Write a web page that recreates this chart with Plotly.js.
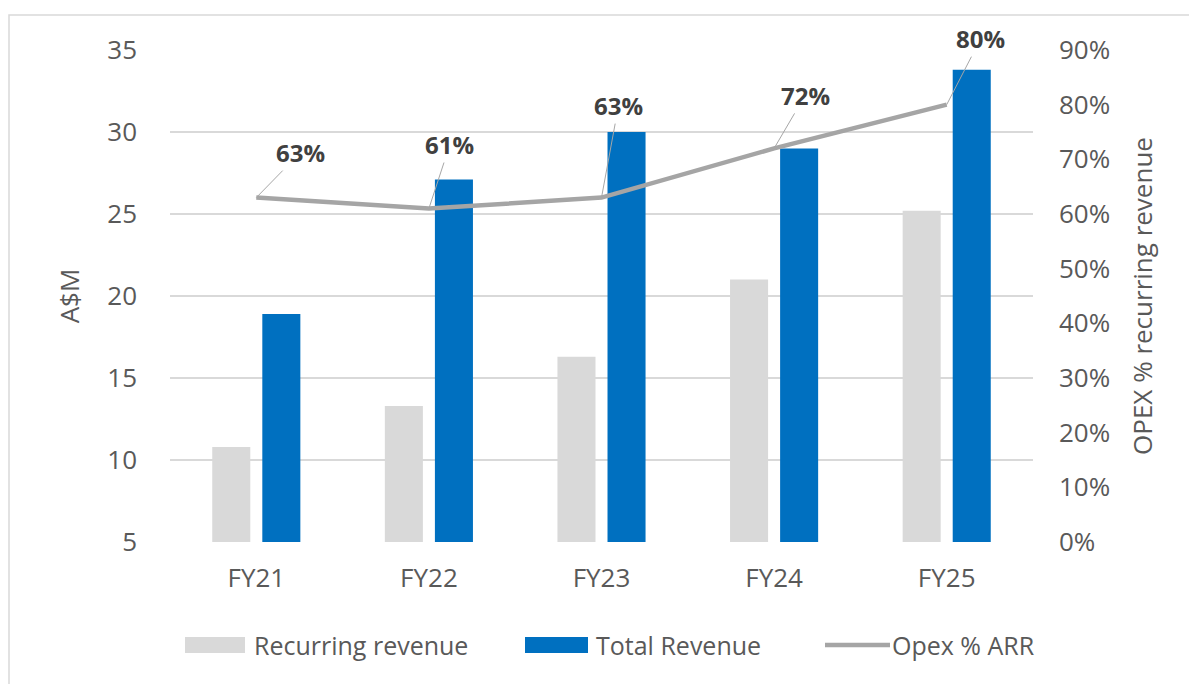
<!DOCTYPE html>
<html>
<head>
<meta charset="utf-8">
<script src="https://cdn.plot.ly/plotly-3.0.1.min.js"></script>
<style>html,body{margin:0;padding:0;background:#fff;}#chart{width:1189px;height:684px;}</style>
</head>
<body>
<div id="chart"></div>
<script>
const categories = ["FY21", "FY22", "FY23", "FY24", "FY25"];
const recurringRevenue = [10.8, 13.3, 16.3, 21.0, 25.2];
const totalRevenue = [18.9, 27.1, 30.0, 29.0, 33.8];
const opexPctArr = [0.63, 0.61, 0.63, 0.72, 0.80];
const labelOffsets = [[44, -45], [21, -64], [17, -92], [31, -53], [34, -66]];
const seriesNames = ["Recurring revenue", "Total Revenue", "Opex % ARR"];

const FONT = "Open Sans, Noto Sans, sans-serif";
const TICKC = "#595959";
const W = 1189, H = 684;
const M = {l: 170, r: 156, t: 50, b: 142};
const PW = W - M.l - M.r, PH = H - M.t - M.b;
const px = v => (v - M.l) / PW, py = v => (H - M.b - v) / PH;

const traces = [
  {type: "bar", name: seriesNames[0], x: categories, y: recurringRevenue,
   marker: {color: "#d9d9d9"}, yaxis: "y", hoverinfo: "y"},
  {type: "bar", name: seriesNames[1], x: categories, y: totalRevenue,
   marker: {color: "#0070c0"}, yaxis: "y", hoverinfo: "y"},
  {type: "scatter", mode: "lines", name: seriesNames[2], x: categories, y: opexPctArr,
   line: {color: "#a5a5a5", width: 4.5}, yaxis: "y2", hoverinfo: "y"}
];

const annotations = categories.map((c, i) => ({
  x: c, y: opexPctArr[i], xref: "x", yref: "y2",
  text: Math.round(opexPctArr[i] * 100) + "%",
  showarrow: true, arrowhead: 0, arrowwidth: 1, arrowcolor: "#a6a6a6",
  ax: labelOffsets[i][0], ay: labelOffsets[i][1], standoff: 0,
  font: {family: FONT, size: 24, color: "#404040", weight: "bold"}
}));

// custom legend
const legendItems = [
  {x0: 185, x1: 245, text: seriesNames[0], tx: 252, kind: "bar", color: "#d9d9d9"},
  {x0: 525, x1: 588, text: seriesNames[1], tx: 594, kind: "bar", color: "#0070c0"},
  {x0: 825, x1: 890, text: seriesNames[2], tx: 890, kind: "line", color: "#a5a5a5"}
];
const shapes = [
  {type: "rect", xref: "paper", yref: "paper", x0: px(9), x1: px(1240), y0: py(15), y1: py(740),
   line: {color: "#d9d9d9", width: 1.5}, fillcolor: "rgba(0,0,0,0)", layer: "below"}
];
legendItems.forEach(it => {
  if (it.kind === "bar") {
    shapes.push({type: "rect", xref: "paper", yref: "paper", x0: px(it.x0), x1: px(it.x1),
      y0: py(653), y1: py(637), fillcolor: it.color, line: {width: 0}});
  } else {
    shapes.push({type: "line", xref: "paper", yref: "paper", x0: px(it.x0), x1: px(it.x1),
      y0: py(645), y1: py(645), line: {color: it.color, width: 4.5}});
  }
  annotations.push({xref: "paper", yref: "paper", x: px(it.tx), y: py(645), xanchor: "left", yanchor: "middle",
    text: it.text, showarrow: false, font: {family: FONT, size: 25, color: TICKC}});
});

const layout = {
  width: W, height: H,
  margin: M,
  paper_bgcolor: "#fff", plot_bgcolor: "#fff",
  barmode: "group", bargap: 0.42, bargroupgap: 0.24,
  showlegend: false,
  font: {family: FONT, color: TICKC},
  xaxis: {tickfont: {size: 26, color: TICKC}, showgrid: false, zeroline: false, showline: false,
          ticks: "", ticklabelstandoff: 18},
  yaxis: {range: [5, 35], dtick: 5, tick0: 5, showgrid: true, gridcolor: "#d9d9d9", gridwidth: 1.3,
          zeroline: false, showline: false, ticks: "", tickfont: {size: 26, color: TICKC},
          ticklabelstandoff: 32,
          title: {text: "A$M", font: {size: 26, color: TICKC}, standoff: 20}},
  yaxis2: {range: [0, 0.9], dtick: 0.1, tickformat: ".0%", overlaying: "y", side: "right",
           showgrid: false, zeroline: false, showline: false, ticks: "", tickfont: {size: 26, color: TICKC},
           ticklabelstandoff: 25,
           title: {text: "OPEX % recurring revenue", font: {size: 26, color: TICKC}, standoff: 24}},
  annotations: annotations,
  shapes: shapes
};

Plotly.newPlot("chart", traces, layout, {displayModeBar: false, staticPlot: true});
</script>
</body>
</html>
